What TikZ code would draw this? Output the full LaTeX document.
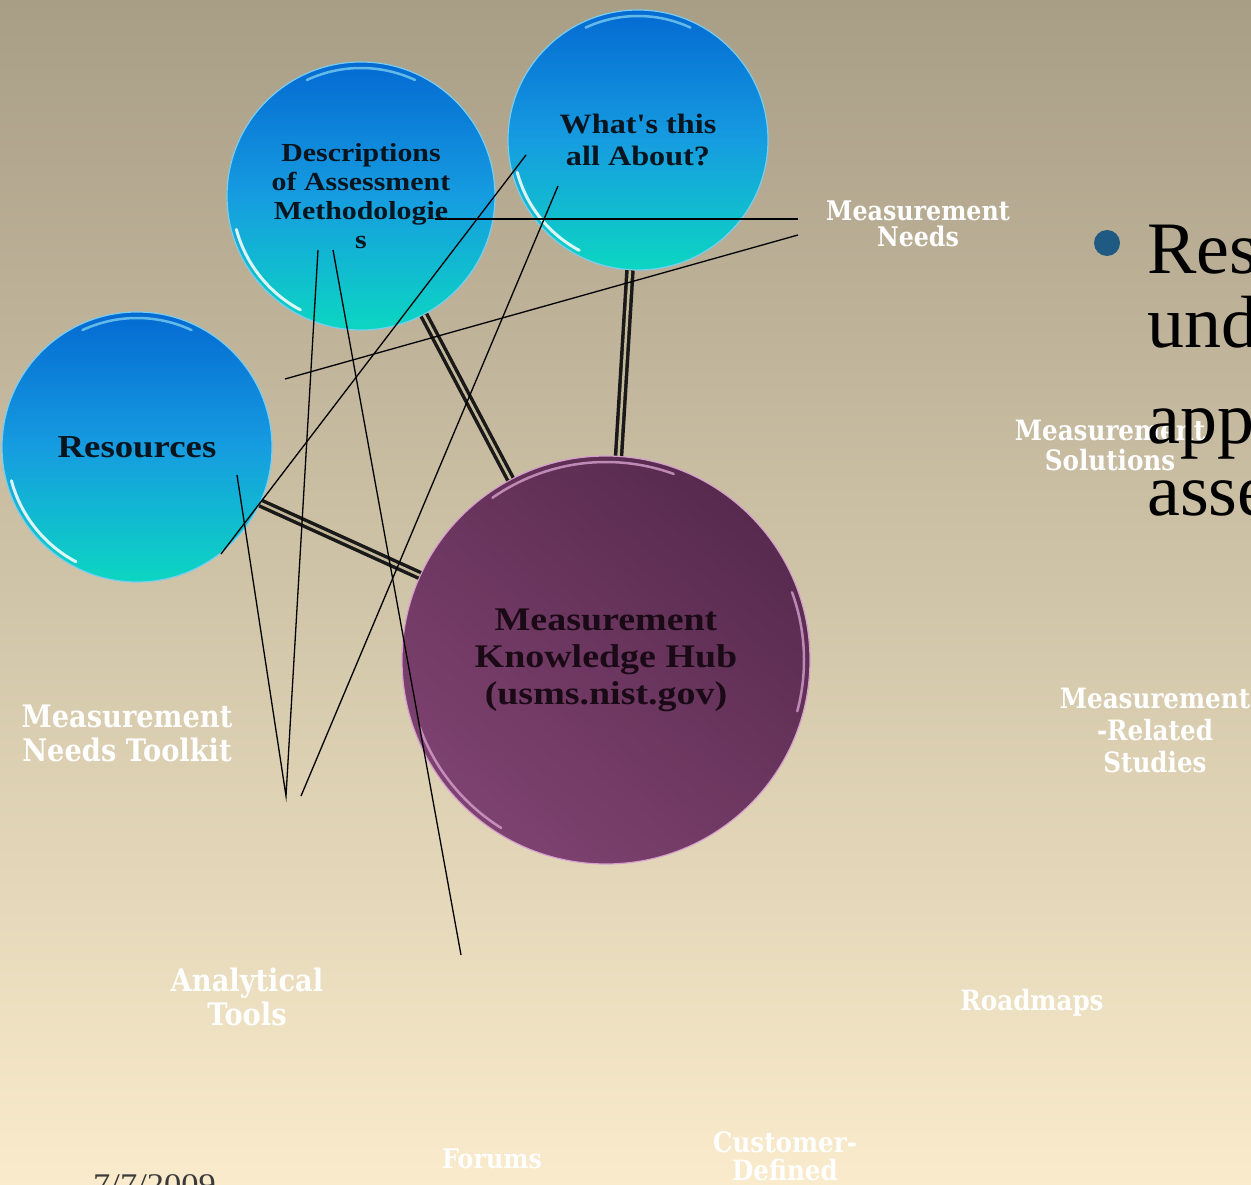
\documentclass[tikz,border=0pt]{standalone}
\usepackage{fontspec}
\setmainfont{Liberation Serif}
\newfontfamily\circfont[FakeStretch=1.15]{Liberation Serif}
\newfontfamily\labfont[FakeStretch=0.88]{DejaVu Serif}
\definecolor{bgtop}{RGB}{168,158,134}
\definecolor{bgmid}{RGB}{214,201,168}
\definecolor{bgbot}{RGB}{249,235,203}
\definecolor{bluetop}{RGB}{4,106,210}
\definecolor{bluemid}{RGB}{22,156,224}
\definecolor{bluebot}{RGB}{12,214,194}
\definecolor{bluerim}{RGB}{120,205,240}
\definecolor{hubA}{RGB}{126,66,112}
\definecolor{hubB}{RGB}{88,42,78}
\definecolor{hubrim}{RGB}{214,160,206}
\definecolor{bulletc}{RGB}{30,90,130}
\definecolor{gapc}{RGB}{196,184,154}
\definecolor{datec}{RGB}{58,58,58}
\begin{document}
\begin{tikzpicture}[x=1pt,y=-1pt,
  bluec/.style={circle, inner sep=0pt, minimum size=#1, top color=bluetop,
    bottom color=bluebot, middle color=bluemid, draw=bluerim, line width=1.2pt,
    align=center, text={rgb,255:red,8;green,20;blue,30}},
  hubn/.style={circle, inner sep=0pt, minimum size=#1, top color=hubB,
    bottom color=hubA, shading angle=-40, draw=hubrim, line width=1.2pt,
    align=center, text={rgb,255:red,26;green,10;blue,22}},
  dbl/.style={draw=black!90, line width=3.5pt, double=gapc, double distance=2.5pt},
  thinline/.style={draw=black, line width=1.3pt},
  hlw/.style={draw=white, line width=3pt, line cap=round, opacity=0.85},
  hlc/.style={draw=bluerim, line width=2.5pt, line cap=round, opacity=0.8},
  hlp/.style={draw=hubrim, line width=2.5pt, line cap=round, opacity=0.8},
  lab/.style 2 args={text=white, align=center, inner sep=0pt,
    font=\labfont\bfseries\fontsize{#1}{#2}\selectfont},
  bigtxt/.style={anchor=base west, inner sep=0pt, text=black,
    font=\fontsize{74}{74}\selectfont}
]
\useasboundingbox (0,0) rectangle (1251,1185);
\clip (0,0) rectangle (1251,1185);
% background
\shade[top color=bgtop, middle color=bgmid, bottom color=bgbot] (0,0) rectangle (1251,1185);

% circles
\node[bluec=260, font=\circfont\bfseries\fontsize{28}{32}\selectfont] (what) at (638,140)
  {What's this\\all About?};
\node[bluec=268, font=\circfont\bfseries\fontsize{26}{29}\selectfont] (desc) at (361,196)
  {Descriptions\\of Assessment\\Methodologie\\s};
\node[bluec=270, font=\circfont\bfseries\fontsize{32}{36}\selectfont] (res) at (137,447)
  {Resources};
\node[hubn=408, font=\circfont\bfseries\fontsize{33}{37}\selectfont] (hub) at (606,660)
  {Measurement\\Knowledge Hub\\(usms.nist.gov)};

% rim highlights
\draw[hlw] ([shift={(165:125)}]what.center) arc[start angle=165, end angle=118, radius=125];
\draw[hlc] ([shift={(295:124)}]what.center) arc[start angle=295, end angle=245, radius=124];
\draw[hlw] ([shift={(165:129)}]desc.center) arc[start angle=165, end angle=118, radius=129];
\draw[hlc] ([shift={(295:128)}]desc.center) arc[start angle=295, end angle=245, radius=128];
\draw[hlw] ([shift={(165:130)}]res.center) arc[start angle=165, end angle=118, radius=130];
\draw[hlc] ([shift={(295:129)}]res.center) arc[start angle=295, end angle=245, radius=129];
\draw[hlp] ([shift={(290:198)}]hub.center) arc[start angle=290, end angle=235, radius=198];
\draw[hlp] ([shift={(160:198)}]hub.center) arc[start angle=160, end angle=122, radius=198];
\draw[hlp] ([shift={(15:198)}]hub.center) arc[start angle=15, end angle=-20, radius=198];

% double connectors
\draw[dbl] (desc) -- (hub);
\draw[dbl] (what) -- (hub);
\draw[dbl] (res) -- (hub);

% white labels
\node[lab={27}{26}] (needs) at (918,224) {Measurement\\Needs};
\node[lab={28}{30}] (sol) at (1110,445) {Measurement\\Solutions};
\node[lab={31}{34}] (toolkit) at (127,733) {Measurement\\Needs Toolkit};
\node[lab={28}{32}] (studies) at (1155,730) {Measurement\\-Related\\Studies};
\node[lab={31}{34}] (anal) at (247,997) {Analytical\\Tools};
\node[lab={28}{28}, anchor=base] (road) at (1032,1010) {Roadmaps};
\node[lab={27}{27}, anchor=base] (forums) at (492,1168) {Forums};
\node[lab={28}{28}] (cust) at (785,1156) {Customer-\\Defined};

% bullet text
\fill[bulletc] (1107,243) circle[radius=13];
\node[bigtxt] (l1) at (1147,273) {Res};
\node[bigtxt] (l2) at (1147,347) {und};
\node[bigtxt] (l3) at (1147,443) {app};
\node[bigtxt] (l4) at (1147,515) {asse};

% date
\node[anchor=base west, inner sep=0pt, text=datec,
  font=\circfont\fontsize{30}{30}\selectfont] (date) at (93,1194) {7/7/2009};

% thin lines
\coordinate (p1) at (435,219);
\coordinate (p2) at (798,219);
\coordinate (p3) at (285,379);
\coordinate (p4) at (798,235);
\coordinate (p5) at (221,554);
\coordinate (p6) at (526,155);
\coordinate (p7) at (301,796);
\coordinate (p8) at (558,186);
\coordinate (p9) at (286,796);
\coordinate (p10) at (318,250);
\coordinate (p11) at (237,475);
\coordinate (p12) at (333,250);
\coordinate (p13) at (461,955);
\draw[thinline] (p1) -- (p2);
\draw[thinline] (p3) -- (p4);
\draw[thinline] (p5) -- (p6);
\draw[thinline] (p7) -- (p8);
\draw[thinline] (p11) -- (p9) -- (p10);
\draw[thinline] (p12) -- (p13);
\end{tikzpicture}
\end{document}
